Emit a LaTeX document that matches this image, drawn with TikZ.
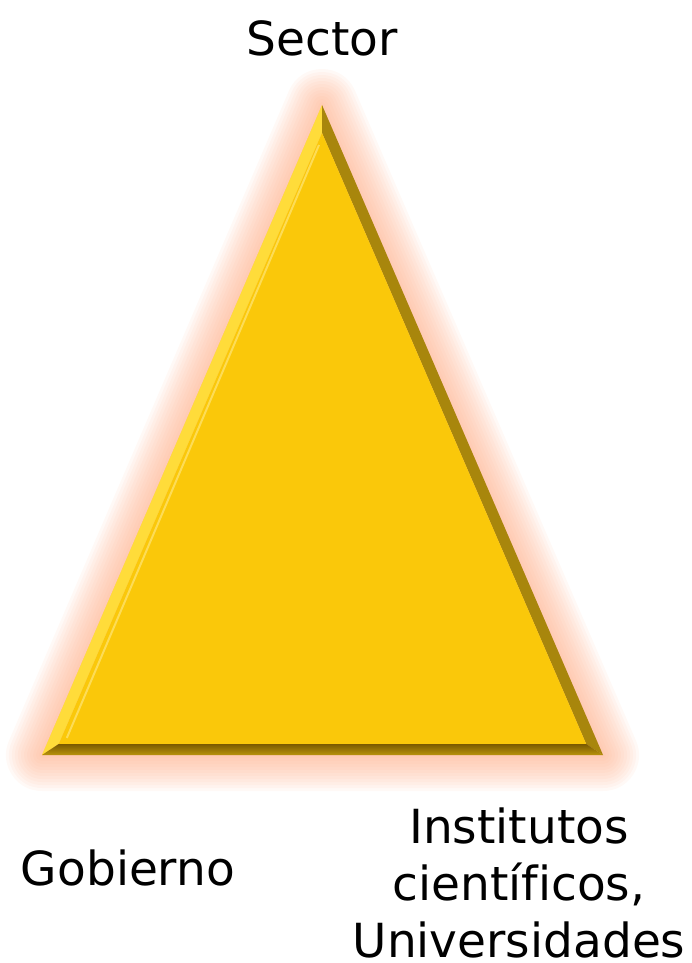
\documentclass[tikz,border=0pt]{standalone}
\usepackage{fontspec}
\setmainfont[Ligatures=NoCommon]{DejaVu Sans}
\usetikzlibrary{calc}

\definecolor{goldfill}{HTML}{FAC80A}
\definecolor{goldlight}{HTML}{FFDC3A}
\definecolor{golddark}{HTML}{A8860C}
\definecolor{goldbrown}{HTML}{7A5A00}
\definecolor{glowc}{HTML}{FFA880}

\tikzset{
  label/.style={font=\fontsize{47}{57}\selectfont, text=black, inner sep=0pt},
  glow/.style={draw=glowc, line join=round, fill=glowc}
}

\begin{document}
\begin{tikzpicture}[x=1pt,y=-1pt]
  \useasboundingbox (0,0) rectangle (691,963);
  \coordinate (top) at (322,105);
  \coordinate (left) at (42,755);
  \coordinate (right) at (603,755);
  \coordinate (mid) at (322.3,570.5);
  \coordinate (itop) at ($(mid)!0.94!(top)$);
  \coordinate (ileft) at ($(mid)!0.94!(left)$);
  \coordinate (iright) at ($(mid)!0.94!(right)$);
  % soft glow
  \foreach \w in {72,66,...,6}{
    \draw[glow, line width=\w, opacity=0.07] (top) -- (left) -- (right) -- cycle;
  }
  % bevel
  \fill[goldlight] (top) -- (left) -- (ileft) -- (itop) -- cycle;
  \fill[golddark] (top) -- (itop) -- (iright) -- (right) -- cycle;
  \shade[top color=goldbrown, bottom color=golddark!80!goldfill] (ileft) -- (iright) -- (right) -- (left) -- cycle;
  \fill[goldfill] (itop) -- (ileft) -- (iright) -- cycle;
  \draw[goldlight!60!white, line width=2, opacity=0.6] ($(itop)+(-3,12)$) -- ($(ileft)+(8,-6)$);
  % texts
  \node[label] (sector) at (322,38) {Sector};
  \node[label] (gobierno) at (128,868) {Gobierno};
  \node[label, align=center] (institutos) at (519,883) {Institutos\\científicos,\\Universidades};
\end{tikzpicture}
\end{document}
